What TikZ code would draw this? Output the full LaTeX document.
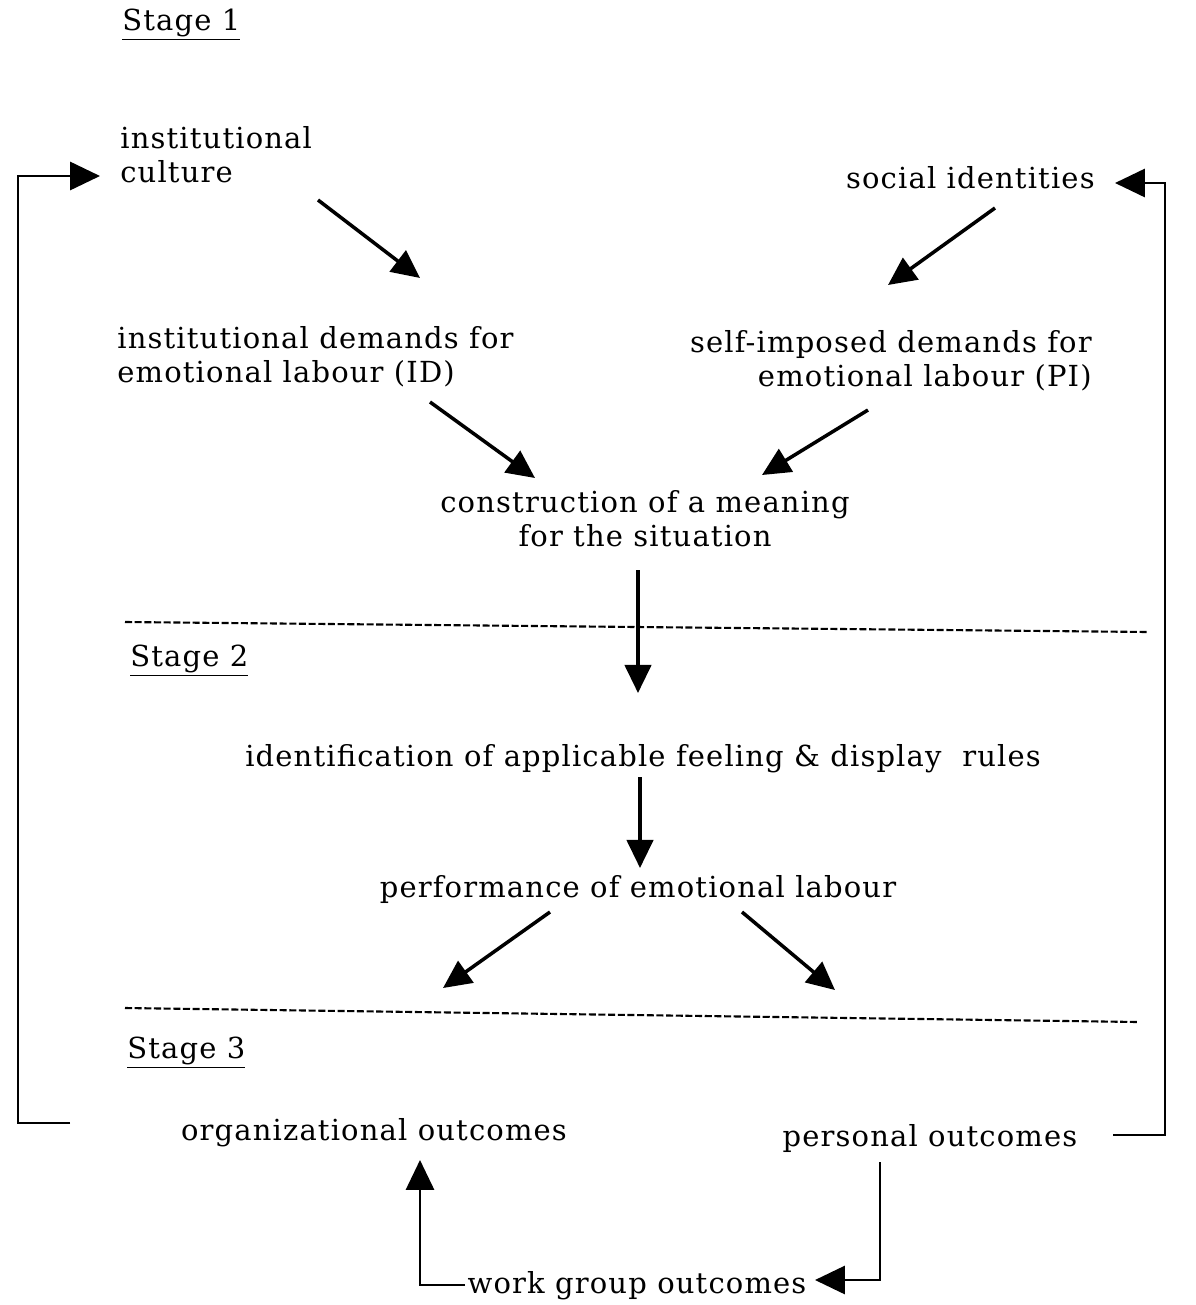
\documentclass[tikz,border=0pt]{standalone}
\usepackage{fontspec}
\setmainfont{DejaVu Serif}[LetterSpace=4]
\usetikzlibrary{arrows.meta}
\usetikzlibrary{calc}

\begin{document}
\begin{tikzpicture}[x=0.02cm,y=-0.02cm]
      \tikzset{txt/.style={inner sep=0pt,font=\fontsize{16.5}{19.3}\selectfont},
        arr/.style={-{Triangle[length=16pt,width=15pt]},line width=2pt},
        back/.style={-{Triangle[length=17pt,width=16pt]},line width=1.4pt},
        stageline/.style={dash pattern=on 4pt off 1.5pt,line width=1.2pt}}
      \useasboundingbox (0,0) rectangle (1196,1305);
      % stage 1
      \node[txt,anchor=base west] (S1) at (122,30) {\underline{Stage 1}};
      \node[txt,anchor=base west,align=left] (IC) at (120,182) {institutional\\culture};
      \node[txt,anchor=base east] (SI) at (1095,188) {social identities};
      \node[txt,anchor=base west,align=left] (ID) at (117,382) {institutional demands for\\emotional labour (ID)};
      \node[txt,anchor=base east,align=right] (PI) at (1092,386) {self-imposed demands for\\emotional labour (PI)};
      \node[txt,anchor=base,align=center] (CM) at (645,546) {construction of a meaning\\for the situation};
      % stage 2
      \node[txt,anchor=base west] (S2) at (130,666) {\underline{Stage 2}};
      \node[txt,anchor=base] (IR) at (643,766) {identification of applicable feeling \& display\ \ rules};
      \node[txt,anchor=base] (PE) at (638,897) {performance of emotional labour};
      % stage 3
      \node[txt,anchor=base west] (S3) at (127,1058) {\underline{Stage 3}};
      \node[txt,anchor=base] (OO) at (374,1140) {organizational outcomes};
      \node[txt,anchor=base] (PO) at (930,1146) {personal outcomes};
      \node[txt,anchor=base] (WG) at (637,1293) {work group outcomes};
      \coordinate (L) at (443,988);
      \coordinate (R) at (835,990);

\draw[stageline] (125,622) -- (1148,632);
\draw[stageline] (125,1008) -- (1138,1022);

\draw[arr] ($(IC.base west)+(198,18)$) -- ($(ID.base west)+(303,-104)$);
\draw[arr] ($(SI.base east)+(-100,20)$) -- ($(PI.base east)+(-204,-101)$);
\draw[arr] ($(ID.base west)+(313,20)$) -- ($(CM.base)+(-110,-68)$);
\draw[arr] ($(PI.base east)+(-224,24)$) -- ($(CM.base)+(117,-71)$);
\draw[arr] ($(CM.base)+(-7,24)$) -- ($(IR.base)+(-5,-73)$);
\draw[arr] ($(IR.base)+(-3,11)$) -- ($(PE.base)+(2,-29)$);
\draw[arr] ($(PE.base)+(-88,15)$) -- (L);
\draw[arr] ($(PE.base)+(104,15)$) -- (R);

\draw[back] ($(OO.base)+(-304,-17)$) -- ++(-52,0) |- ($(IC.base west)+(-20,-6)$);
\draw[back] ($(PO.base)+(183,-11)$) -- ++(52,0) |- ($(SI.base east)+(20,-5)$);
\draw[back] ($(WG.base)+(-172,-8)$) -| ($(OO.base)+(46,20)$);
\draw[back] ($(PO.base)+(-50,16)$) |- ($(WG.base)+(178,-13)$);
    \end{tikzpicture}
\end{document}
